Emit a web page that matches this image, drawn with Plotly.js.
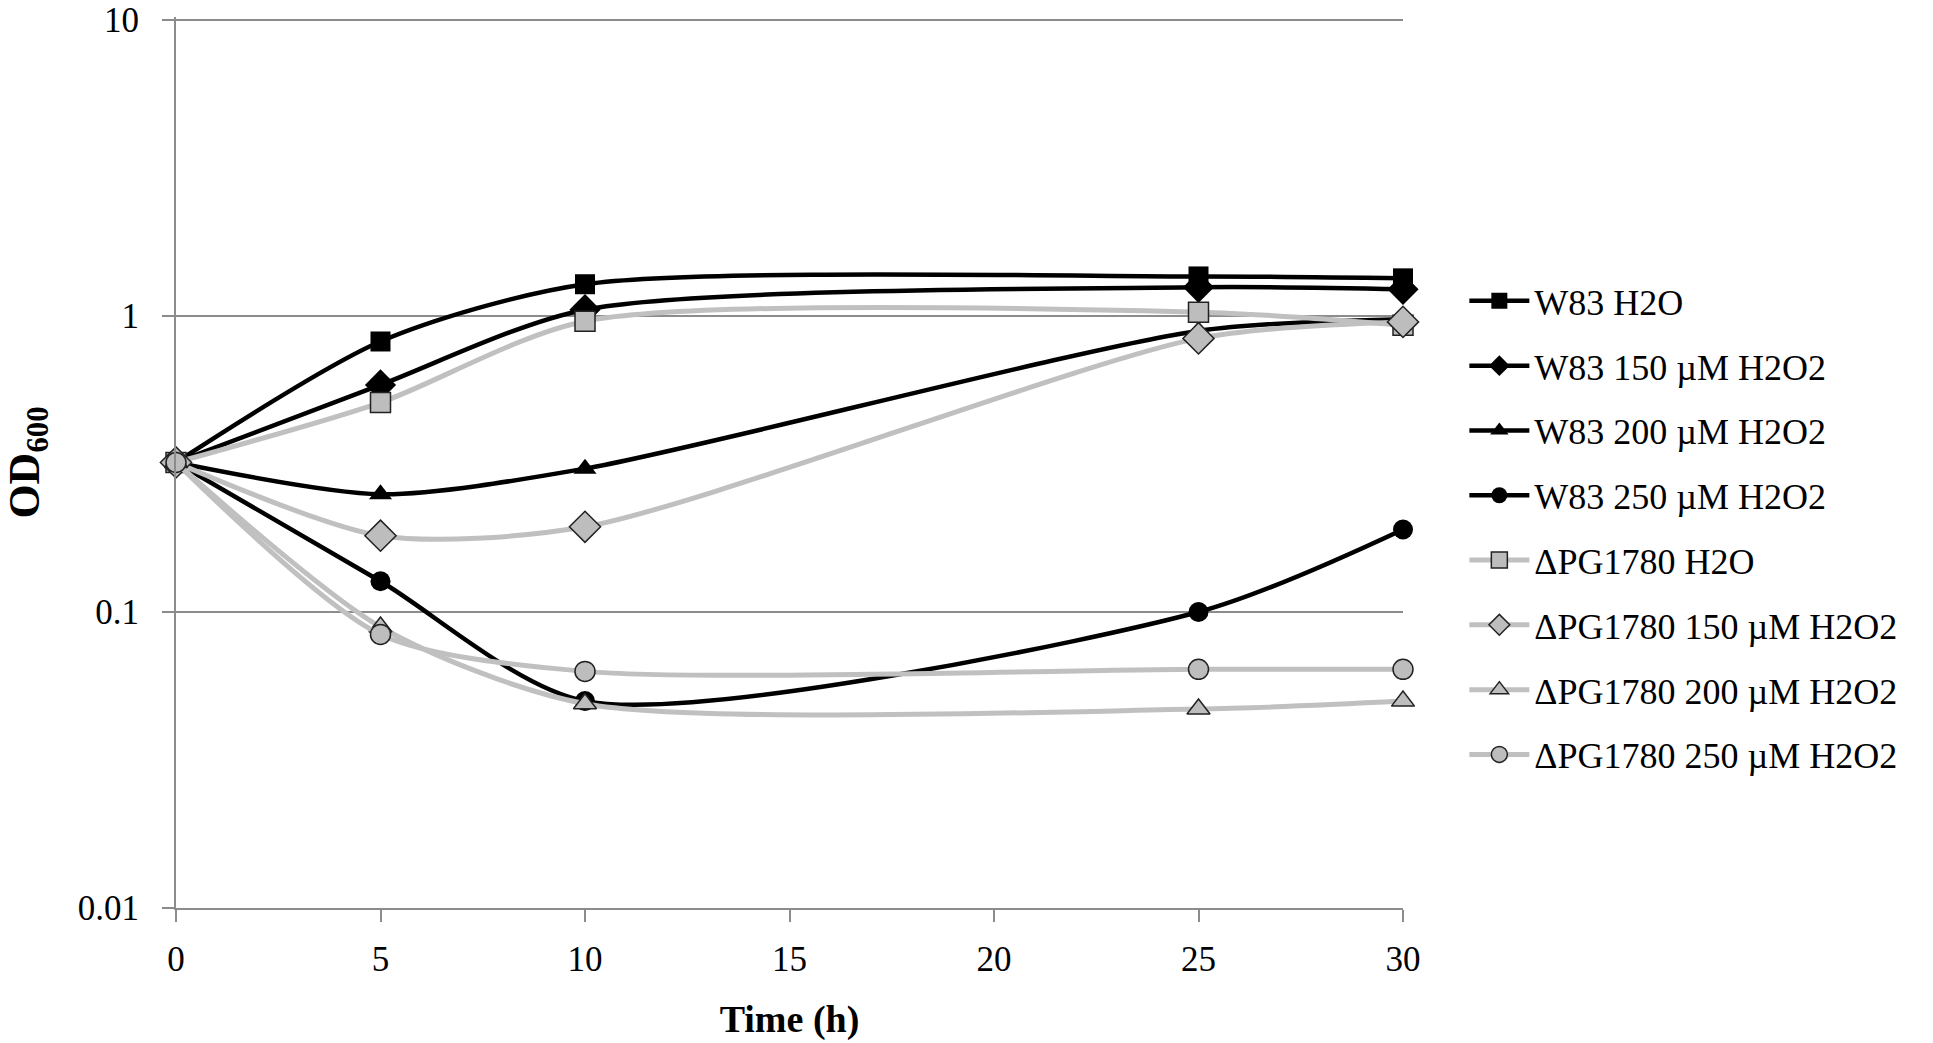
<!DOCTYPE html>
<html>
<head>
<meta charset="utf-8">
<script src="https://cdn.plot.ly/plotly-3.0.1.min.js"></script>
<style>
  html, body { margin: 0; padding: 0; background: #fff; }
  #chart { width: 1933px; height: 1043px; }
</style>
</head>
<body>
<div id="chart"></div>
<script>
// 采样时间 (h)
const timeHours = [0, 5, 10, 25, 30];

// OD600 读数
const w83H2O = [0.32, 0.82, 1.28, 1.36, 1.34];
const w83H2O2_150 = [0.32, 0.585, 1.05, 1.25, 1.23];
const w83H2O2_200 = [0.32, 0.25, 0.305, 0.89, 0.975];
const w83H2O2_250 = [0.32, 0.127, 0.05, 0.1, 0.19];
const dPgH2O = [0.32, 0.51, 0.96, 1.03, 0.93];
const dPgH2O2_150 = [0.32, 0.181, 0.194, 0.84, 0.955];
const dPgH2O2_200 = [0.32, 0.089, 0.049, 0.047, 0.05];
const dPgH2O2_250 = [0.32, 0.084, 0.063, 0.064, 0.064];

const seriesNames = [
    'W83 H2O',
    'W83 150 µM H2O2',
    'W83 200 µM H2O2',
    'W83 250 µM H2O2',
    'ΔPG1780 H2O',
    'ΔPG1780 150 µM H2O2',
    'ΔPG1780 200 µM H2O2',
    'ΔPG1780 250 µM H2O2'
];
const seriesValues = [w83H2O, w83H2O2_150, w83H2O2_200, w83H2O2_250,
                      dPgH2O, dPgH2O2_150, dPgH2O2_200, dPgH2O2_250];
const symbols = ['square', 'diamond', 'triangle-up', 'circle',
                 'square', 'diamond', 'triangle-up', 'circle'];

const yTickVals = [0.01, 0.1, 1, 10];
const yTickText = ['0.01', '0.1', '1', '10'];
const xTickVals = [0, 5, 10, 15, 20, 25, 30];

const data = seriesNames.map((name, i) => {
    const isMutant = i >= 4; // 突变株用灰色
    const sym = symbols[i];
    const size = sym === 'diamond' ? 24 : 20;
    return {
        type: 'scatter',
        mode: 'lines+markers',
        name: name,
        legendgroup: 'g' + i,
        x: timeHours,
        y: seriesValues[i],
        line: {
            shape: 'spline',
            smoothing: 0.75,
            color: isMutant ? '#c0c0c0' : '#000000',
            width: isMutant ? 5 : 4.5
        },
        marker: {
            symbol: sym,
            size: size,
            color: isMutant ? '#bdbdbd' : '#000000',
            line: { color: isMutant ? '#222222' : '#000000', width: isMutant ? 1.5 : 0 }
        },
        cliponaxis: false
    };
});

const layout = {
    width: 1933,
    height: 1043,
    margin: { l: 176, r: 530, t: 17, b: 135 },
    paper_bgcolor: '#ffffff',
    plot_bgcolor: '#ffffff',
    font: { family: '"Liberation Serif", "Times New Roman", serif', size: 35, color: '#000' },
    showlegend: true,
    legend: {
        x: 1.05,
        xanchor: 'left',
        y: 0.715,
        yanchor: 'top',
        traceorder: 'grouped',
        tracegroupgap: 15,
        itemwidth: 60,
        font: { size: 36, color: '#000' },
        bgcolor: 'rgba(0,0,0,0)'
    },
    xaxis: {
        range: [0, 30],
        tickvals: xTickVals,
        ticks: 'outside',
        ticklen: 12,
        tickwidth: 2,
        tickcolor: '#8c8c8c',
        showline: true,
        linecolor: '#8c8c8c',
        linewidth: 2,
        showgrid: false,
        zeroline: false,
        ticklabelstandoff: 7,
        tickfont: { size: 35 },
        title: {
            text: '<b>Time (h)</b>',
            font: { size: 38 },
            standoff: 27
        }
    },
    yaxis: {
        type: 'log',
        range: [-2, 1.01], // 顶端留一点余量，保证 10 的网格线和标签能画出来
        tickvals: yTickVals,
        ticktext: yTickText,
        ticks: 'outside',
        ticklen: 12,
        tickwidth: 2,
        tickcolor: '#8c8c8c',
        showline: true,
        linecolor: '#8c8c8c',
        linewidth: 2,
        showgrid: true,
        gridcolor: '#8c8c8c',
        gridwidth: 2,
        zeroline: false,
        ticklabelstandoff: 16,
        ticklabeloverflow: 'allow',
        tickfont: { size: 35 },
        title: {
            text: '<b>OD<sub>600</sub></b>',
            font: { size: 44 },
            standoff: 50
        }
    }
};

Plotly.newPlot('chart', data, layout, { displayModeBar: false, staticPlot: true });
</script>
</body>
</html>
